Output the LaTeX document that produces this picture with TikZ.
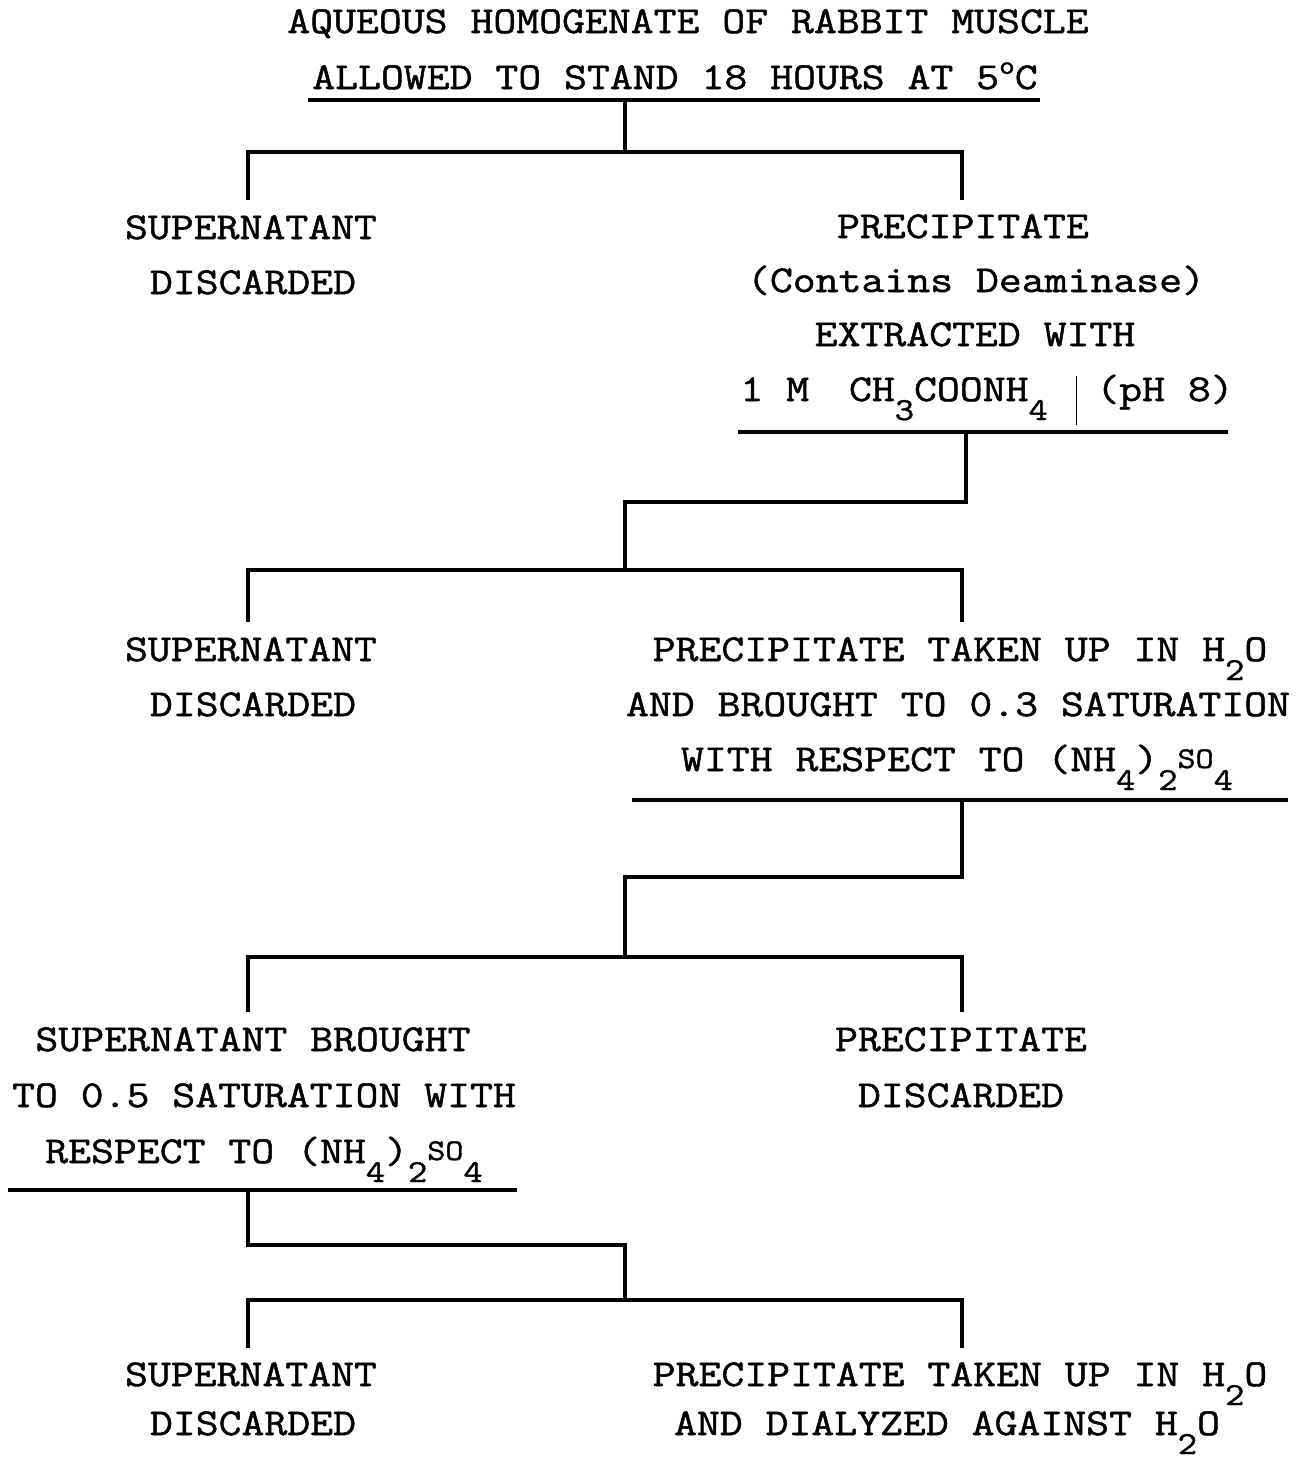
\documentclass[tikz,border=0pt]{standalone}
\usepackage{fontspec}
\newfontfamily\typefont[FakeStretch=1.17,FakeBold=1.3]{Latin Modern Mono}
\newcommand{\lowr}[1]{\raisebox{-0.5em}{\fontsize{16}{16}\selectfont #1}}
\newcommand{\degr}{\raisebox{0.4em}{\fontsize{13}{13}\selectfont o}}
\newcommand{\sulf}{(NH\lowr{4})\lowr{2}\raisebox{0.08em}{\fontsize{15}{15}\selectfont SO}\lowr{4}}
\tikzstyle{line}=[anchor=base,inner sep=0pt,font=\fontsize{19}{27}\selectfont\typefont]
\tikzstyle{ruled}=[line width=1.9pt]
\tikzstyle{wire}=[line width=1.6pt]

\begin{document}
\begin{tikzpicture}[x=0.5pt,y=-0.5pt]
    \useasboundingbox (0,0) rectangle (1299,1457);
    \fill[white] (0,0) rectangle (1299,1457);

    % Homogenate
    \node [line] (hom1) at (688,33) {AQUEOUS HOMOGENATE OF RABBIT MUSCLE};
    \node [line] (hom2) at (675,89) {ALLOWED TO STAND 18 HOURS AT 5\degr C};
    \draw [ruled] (308,100) -- (1040,100);

    \coordinate (hom-out) at (625,100);
    \coordinate (split1)  at (625,152);
    \coordinate (sup1-in) at (248,200);
    \coordinate (pre1-in) at (962,200);
    \draw [wire] (hom-out) -- (split1);
    \draw [wire] (sup1-in) |- (split1) -| (pre1-in);

    % First split
    \node [line] (sup1a) at (251,239) {SUPERNATANT};
    \node [line] (sup1b) at (253,294) {DISCARDED};
    \node [line] (pre1a) at (963,238) {PRECIPITATE};
    \node [line] (pre1b) at (976,292) {(Contains Deaminase)};
    \node [line] (pre1c) at (975,346) {EXTRACTED WITH};
    \node [line,anchor=base west] (pre1d) at (740,401)
        {1 M\hspace{1.05em}CH\lowr{3}COONH\lowr{4}\hspace{0.74em}\rule[-0.62em]{0.7pt}{1.28em}\hspace{0.5em}(pH 8)};
    \draw [ruled] (738,432) -- (1228,432);

    \coordinate (pre1-out) at (966,432);
    \coordinate (bend2)    at (625,502);
    \coordinate (split2)   at (625,570);
    \coordinate (sup2-in)  at (248,622);
    \coordinate (pre2-in)  at (962,622);
    \draw [wire] (pre1-out) |- (bend2) -- (split2);
    \draw [wire] (sup2-in) |- (split2) -| (pre2-in);

    % Second split
    \node [line] (sup2a) at (251,661) {SUPERNATANT};
    \node [line] (sup2b) at (253,716) {DISCARDED};
    \node [line] (pre2a) at (960,661) {PRECIPITATE TAKEN UP IN H\lowr{2}O};
    \node [line] (pre2b) at (958,716) {AND BROUGHT TO 0.3 SATURATION};
    \node [line] (pre2c) at (957,771) {WITH RESPECT TO \sulf};
    \draw [ruled] (632,800) -- (1288,800);

    \coordinate (pre2-out) at (962,800);
    \coordinate (bend3)    at (625,877);
    \coordinate (split3)   at (625,957);
    \coordinate (sup3-in)  at (248,1012);
    \coordinate (pre3-in)  at (962,1012);
    \draw [wire] (pre2-out) |- (bend3) -- (split3);
    \draw [wire] (sup3-in) |- (split3) -| (pre3-in);

    % Third split
    \node [line] (sup3a) at (253,1051) {SUPERNATANT BROUGHT};
    \node [line] (sup3b) at (264,1107) {TO 0.5 SATURATION WITH};
    \node [line] (sup3c) at (264,1163) {RESPECT TO \sulf};
    \draw [ruled] (8,1190) -- (517,1190);
    \node [line] (pre3a) at (961,1051) {PRECIPITATE};
    \node [line] (pre3b) at (961,1107) {DISCARDED};

    \coordinate (sup3-out) at (248,1190);
    \coordinate (bend4)    at (625,1245);
    \coordinate (split4)   at (625,1300);
    \coordinate (sup4-in)  at (248,1348);
    \coordinate (pre4-in)  at (962,1348);
    \draw [wire] (sup3-out) |- (bend4) -- (split4);
    \draw [wire] (sup4-in) |- (split4) -| (pre4-in);

    % Last split
    \node [line] (sup4a) at (251,1386) {SUPERNATANT};
    \node [line] (sup4b) at (253,1435) {DISCARDED};
    \node [line] (pre4a) at (960,1386) {PRECIPITATE TAKEN UP IN H\lowr{2}O};
    \node [line] (pre4b) at (947,1435) {AND DIALYZED AGAINST H\lowr{2}O};
\end{tikzpicture}
\end{document}
